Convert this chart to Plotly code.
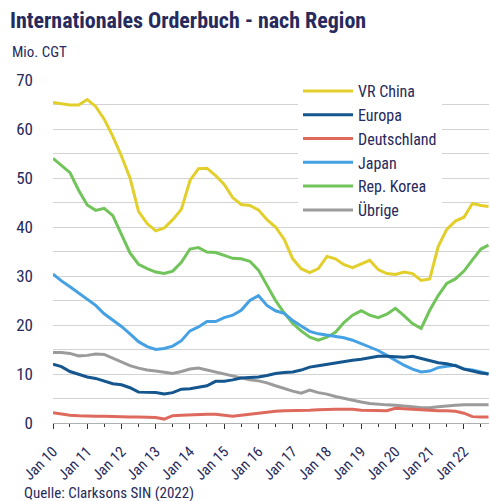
import plotly.graph_objects as go

# quarterly sample dates Jan 2010 .. Sep 2022
dates = []
for y in range(2010, 2023):
    for m in (1, 4, 7, 10):
        dates.append(f"{y}-{m:02d}-01")
dates = dates[:51] + ["2022-09-20"]

china = [65.4, 65.2, 64.9, 64.9, 66.0, 64.6, 62.0, 58.5, 54.5, 50.0, 43.2, 40.7, 39.2, 39.8, 41.5, 43.6,
         49.5, 51.9, 52.0, 50.5, 48.7, 46.0, 44.6, 44.4, 43.5, 41.5, 40.0, 37.5, 33.5, 31.5, 30.7, 31.5,
         34.0, 33.5, 32.3, 31.7, 32.5, 33.2, 31.3, 30.5, 30.3, 30.8, 30.5, 29.1, 29.4, 36.0, 39.5, 41.2,
         42.0, 44.8, 44.4, 44.2]
europa = [12.0, 11.5, 10.5, 10.0, 9.4, 9.1, 8.5, 8.0, 7.8, 7.2, 6.3, 6.2, 6.2, 5.9, 6.2, 6.9,
          7.0, 7.3, 7.6, 8.5, 8.5, 8.8, 9.2, 9.3, 9.4, 9.7, 10.1, 10.3, 10.4, 10.8, 11.4, 11.7,
          12.0, 12.3, 12.6, 12.8, 13.0, 13.3, 13.6, 13.6, 13.5, 13.4, 13.6, 13.2, 12.7, 12.3, 12.1, 11.7,
          11.0, 10.6, 10.2, 10.0]
deutschland = [2.1, 1.8, 1.6, 1.5, 1.4, 1.4, 1.4, 1.3, 1.3, 1.2, 1.2, 1.1, 1.1, 0.8, 1.5, 1.6,
               1.7, 1.8, 1.8, 1.8, 1.6, 1.4, 1.6, 1.8, 2.0, 2.3, 2.4, 2.5, 2.5, 2.6, 2.6, 2.7,
               2.8, 2.8, 2.8, 2.8, 2.6, 2.6, 2.5, 2.5, 3.0, 2.9, 2.8, 2.6, 2.5, 2.5, 2.5, 2.4,
               2.0, 1.3, 1.2, 1.2]
japan = [30.4, 29.0, 27.8, 26.5, 25.3, 24.0, 22.3, 21.0, 19.7, 18.2, 16.6, 15.6, 15.0, 15.2, 15.7, 16.8,
         18.8, 19.6, 20.7, 20.7, 21.5, 22.0, 23.0, 25.0, 26.0, 24.0, 22.9, 22.4, 20.9, 19.8, 18.7, 18.2,
         17.9, 17.6, 17.4, 16.9, 16.2, 15.5, 14.8, 13.8, 12.8, 11.8, 11.0, 10.4, 10.6, 11.3, 11.6, 11.8,
         11.0, 10.8, 10.4, 10.0]
korea = [54.0, 52.6, 51.1, 47.5, 44.5, 43.4, 43.8, 42.3, 38.5, 34.7, 32.4, 31.5, 30.8, 30.5, 31.0, 32.8,
         35.5, 35.8, 34.9, 34.8, 34.2, 33.6, 33.5, 33.0, 31.2, 28.0, 25.0, 22.5, 20.3, 18.8, 17.5, 16.9,
         17.5, 18.5, 20.5, 22.0, 22.9, 22.0, 21.5, 22.2, 23.4, 21.9, 20.3, 19.3, 23.0, 26.0, 28.5, 29.4,
         31.0, 33.3, 35.5, 36.3]
uebrige = [14.4, 14.4, 14.2, 13.7, 13.8, 14.1, 14.0, 13.2, 12.4, 11.7, 11.2, 10.8, 10.6, 10.3, 10.1, 10.5,
           11.0, 11.2, 10.8, 10.3, 9.9, 9.6, 9.2, 8.8, 8.6, 8.2, 7.6, 7.0, 6.5, 6.1, 6.7, 6.2,
           5.9, 5.4, 5.0, 4.6, 4.3, 4.0, 3.8, 3.7, 3.6, 3.5, 3.3, 3.1, 3.1, 3.3, 3.5, 3.6,
           3.7, 3.7, 3.7, 3.7]

series_names = ["VR China", "Europa", "Deutschland", "Japan", "Rep. Korea", "Übrige"]
series_values = [china, europa, deutschland, japan, korea, uebrige]
series_colors = ["#e2cf2c", "#15568f", "#de6a5e", "#45a1e4", "#70c45a", "#9b9b9b"]

ytick_vals = list(range(0, 75, 5))
ytick_text = [str(v) if v % 10 == 0 else "" for v in ytick_vals]

FONT = "Roboto Condensed, DejaVu Sans Condensed, Liberation Sans Narrow, Roboto, sans-serif"
NAVY = "#262a5c"

fig = go.Figure()
# draw back-to-front so China is on top
for name, vals, col in reversed(list(zip(series_names, series_values, series_colors))):
    fig.add_trace(go.Scatter(x=dates, y=vals, name=name, mode="lines",
                             line=dict(color=col, width=3), hoverinfo="skip"))

fig.update_layout(
    width=490, height=501,
    margin=dict(l=53, r=1, t=80, b=78, autoexpand=False),
    paper_bgcolor="white", plot_bgcolor="white",
    font=dict(family=FONT, color=NAVY, size=14),
    title=dict(text="<b>Internationales Orderbuch - nach Region</b>",
               font=dict(family=FONT, size=22, color=NAVY),
               xref="container", yref="container", x=10/490, xanchor="left",
               y=1 - 20/501, yanchor="middle"),
    legend=dict(x=(298 - 53) / 436, y=1 + 6/343, xanchor="left", yanchor="top", bgcolor="white",
                traceorder="reversed", font=dict(family=FONT, size=16, color=NAVY),
                itemwidth=50, tracegroupgap=0),
    showlegend=True,
)
fig.update_xaxes(
    type="date", range=["2010-01-01", "2022-09-25"], automargin=False,
    dtick="M12", tick0="2010-01-01", tickformat="Jan %y", tickangle=-45,
    ticks="outside", ticklen=5, tickcolor="#333", showgrid=False,
    minor=dict(dtick="M6", tick0="2010-01-01", ticks="outside", ticklen=3, tickcolor="#333"),
    showline=True, linecolor="#b0b0b0", linewidth=1, ticklabelstandoff=8,
    tickfont=dict(family=FONT, size=15, color=NAVY),
)
fig.update_yaxes(
    range=[0, 70], tickvals=ytick_vals, ticktext=ytick_text, automargin=False,
    showgrid=True, gridcolor="#d3d3d3", gridwidth=1, zeroline=False,
    ticks="", ticklabelstandoff=19,
    tickfont=dict(family=FONT, size=17, color=NAVY),
)
fig.add_annotation(text="Mio. CGT", xref="paper", yref="paper", x=-43/436, y=1 + 28/343,
                   xanchor="left", yanchor="middle", showarrow=False,
                   font=dict(family=FONT, size=15, color=NAVY))
fig.add_annotation(text="Quelle: Clarksons SIN (2022)", xref="paper", yref="paper",
                   x=-31/436, y=-70/343, xanchor="left", yanchor="middle", showarrow=False,
                   font=dict(family=FONT, size=15, color=NAVY))

fig.write_html("out.html", config={"displayModeBar": False},
               post_script="document.body.style.margin='0';")
